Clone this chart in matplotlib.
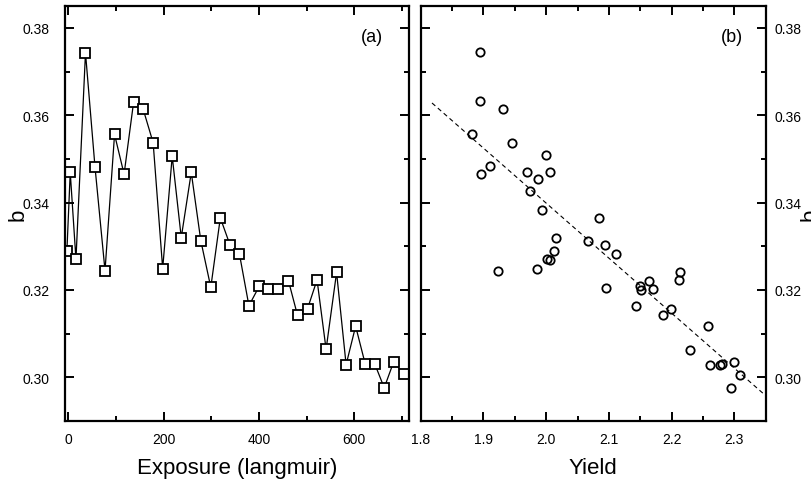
import numpy as np
import matplotlib
matplotlib.use("Agg")
import matplotlib.pyplot as plt
from matplotlib.ticker import MultipleLocator, FormatStrFormatter

plt.rcParams["font.family"] = ["Liberation Sans", "DejaVu Sans"]

# panel (a): b versus exposure (langmuir)
exposure = [-3, 4, 16, 36, 56, 77, 97, 117, 137, 157, 178, 198, 218, 237, 258,
            278, 299, 319, 339, 359, 379, 401, 420, 440, 462, 481, 502, 522,
            541, 563, 583, 603, 623, 643, 663, 683, 704]
b_exp = [0.3290, 0.3469, 0.3270, 0.3743, 0.3481, 0.3244, 0.3556, 0.3465,
         0.3630, 0.3614, 0.3537, 0.3249, 0.3506, 0.3320, 0.3469, 0.3313,
         0.3206, 0.3365, 0.3304, 0.3283, 0.3164, 0.3209, 0.3203, 0.3203,
         0.3221, 0.3142, 0.3157, 0.3223, 0.3064, 0.3240, 0.3029, 0.3117,
         0.3031, 0.3031, 0.2976, 0.3036, 0.3007]

# panel (b): b versus yield
yield_vals = [1.894, 1.894, 1.931, 1.8815, 1.946, 2.000, 1.911, 1.896, 1.969,
              2.0055, 1.987, 1.975, 1.994, 2.085, 2.016, 2.067, 2.094, 1.9235,
              1.986, 2.001, 2.0055, 2.0125, 2.095, 2.112, 2.150, 2.164, 2.151,
              2.171, 2.1435, 2.199, 2.187, 2.213, 2.212, 2.2585, 2.229, 2.2605,
              2.2765, 2.280, 2.299, 2.3085, 2.294]
b_yield = [0.3745, 0.3633, 0.3615, 0.3557, 0.3537, 0.3508, 0.3483, 0.3465,
           0.3469, 0.3469, 0.3455, 0.3427, 0.3384, 0.3365, 0.3320, 0.3313,
           0.3304, 0.3244, 0.3249, 0.3271, 0.3268, 0.3290, 0.3205, 0.3283,
           0.3210, 0.3220, 0.3201, 0.3202, 0.3164, 0.3156, 0.3142, 0.3240,
           0.3223, 0.3117, 0.3063, 0.3029, 0.3029, 0.3031, 0.3034, 0.3006,
           0.2976]

# linear fit line end points
fit_yield = [1.818, 2.35]
fit_b = [0.3628, 0.2958]

fig = plt.figure(figsize=(8.12, 4.85), dpi=100)
ax1 = fig.add_axes([65 / 812, 1 - 422 / 485, 344 / 812, 415 / 485])
ax2 = fig.add_axes([420.7 / 812, 1 - 422 / 485, 345 / 812, 415 / 485])


def style(ax):
    for s in ax.spines.values():
        s.set_linewidth(1.6)
    ax.tick_params(which="both", direction="in", top=True, right=True,
                   width=1.4, labelsize=10)
    ax.tick_params(which="major", length=6.5)
    ax.tick_params(which="minor", length=3.8)
    ax.set_ylim(0.290, 0.385)
    ax.yaxis.set_major_locator(MultipleLocator(0.02))
    ax.yaxis.set_minor_locator(MultipleLocator(0.01))
    ax.yaxis.set_major_formatter(FormatStrFormatter("%.2f"))


style(ax1)
ax1.plot(exposure, b_exp, "-", color="black", lw=0.9, marker="s", ms=6.5,
         mfc="white", mec="black", mew=1.3)
ax1.set_xlim(-7, 715)
ax1.xaxis.set_major_locator(MultipleLocator(200))
ax1.xaxis.set_minor_locator(MultipleLocator(100))
ax1.tick_params(axis="x", pad=8)
ax1.tick_params(axis="y", pad=11)
ax1.set_xlabel("Exposure (langmuir)", fontsize=16, labelpad=8)
ax1.set_ylabel("b", fontsize=16, labelpad=-4.5)
ax1.text(0.892, 0.927, "(a)", transform=ax1.transAxes, fontsize=13,
         ha="center", va="center")

style(ax2)
ax2.plot(fit_yield, fit_b, "--", color="black", lw=0.8, dashes=(4, 3))
ax2.plot(yield_vals, b_yield, "o", ms=6, mfc="none", mec="black", mew=1.3)
ax2.set_xlim(1.8, 2.35)
ax2.xaxis.set_major_locator(MultipleLocator(0.1))
ax2.xaxis.set_minor_locator(MultipleLocator(0.05))
ax2.xaxis.set_major_formatter(FormatStrFormatter("%.1f"))
ax2.tick_params(axis="x", pad=8)
ax2.tick_params(axis="y", labelleft=False, labelright=True, pad=6)
ax2.yaxis.set_label_position("right")
ax2.set_ylabel("b", fontsize=16, labelpad=-1)
ax2.set_xlabel("Yield", fontsize=16, labelpad=8)
ax2.text(0.901, 0.927, "(b)", transform=ax2.transAxes, fontsize=13,
         ha="center", va="center")

fig.savefig("out.png", dpi=100)
